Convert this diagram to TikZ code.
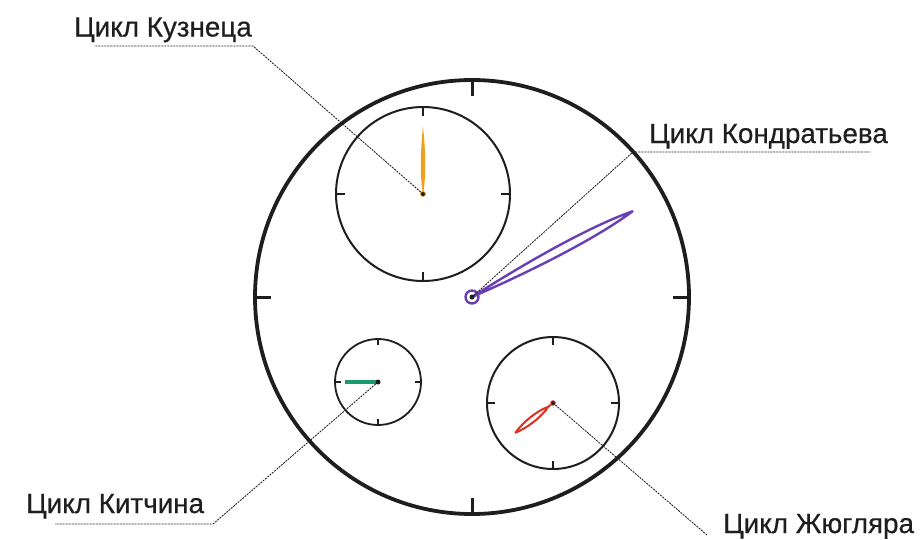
\documentclass[tikz,border=0pt]{standalone}
\usepackage{fontspec}
\setmainfont{Liberation Sans}[FakeBold=0.5]
\definecolor{ink}{HTML}{1E1E1E}
\definecolor{handorange}{HTML}{F0A020}
\definecolor{handpurple}{HTML}{6A3FB5}
\definecolor{handred}{HTML}{E03020}
\definecolor{handgreen}{HTML}{1A9A70}
\begin{document}
\begin{tikzpicture}[x=1pt,y=-1pt,
  dial/.style={circle,draw=ink,inner sep=0pt,fill=none},
  tick/.style={draw=ink,line width=#1},
  tick/.default=1.8pt,
  leader/.style={draw=ink,line width=0.85pt,dash pattern=on 2pt off 1pt},
  lbl/.style={anchor=base west,inner sep=0pt,text=ink,font=\fontsize{27.8}{32}\selectfont},
  hub/.style={circle,fill=ink,inner sep=0pt,minimum size=5pt}]
\useasboundingbox (0,0) rectangle (920,539);
\fill[white] (0,0) rectangle (920,539);

% main dial
\node[dial,line width=3.8pt,minimum size=434pt] (main) at (472,297) {};
\foreach \a in {0,90,180,270}
  \draw[tick=3pt] (main.center) ++(\a:201) -- ++(\a:16);

% sub dials
\node[dial,line width=2pt,minimum size=174pt] (kuz) at (423,194) {};
\foreach \a in {0,90,180,270}
  \draw[tick] (kuz.center) ++(\a:78) -- ++(\a:9);
\node[dial,line width=1.8pt,minimum size=86pt] (kit) at (378,382) {};
\foreach \a in {0,90,180,270}
  \draw[tick=1.5pt] (kit.center) ++(\a:37) -- ++(\a:6);
\node[dial,line width=2pt,minimum size=132pt] (jug) at (553,403) {};
\foreach \a in {0,90,180,270}
  \draw[tick] (jug.center) ++(\a:58) -- ++(\a:8);

% hands
\begin{scope}[shift={(kuz.center)},rotate=90]
  \fill[handorange] (0,0) .. controls (20,3.8) and (50,2) .. (67,0) .. controls (50,-2) and (20,-3.8) .. (0,0);
\end{scope}
\begin{scope}[shift={(main.center)},rotate=28.1]
  \draw[handpurple,line width=2.4pt,line join=round] (0,0) .. controls (70,5.5) and (140,6.5) .. (182,0) .. controls (140,-6.5) and (70,-5.5) .. (0,0);
\end{scope}
\draw[handgreen,line width=3.6pt] (kit.center) -- ++(-33,0);
\begin{scope}[shift={(jug.center)},rotate=-141.7]
  \draw[handred,line width=2pt,line join=round] (0,0) -- (6,0) .. controls (18,4) and (36,3.5) .. (48,0) .. controls (36,-3.5) and (18,-4) .. (6,0);
\end{scope}

% hubs
\node[circle,draw=handpurple,line width=2.4pt,inner sep=0pt,minimum size=13pt] (mainring) at (main.center) {};
\node[hub,minimum size=5pt] (mainhub) at (main.center) {};
\node[hub,draw=handorange,line width=0.8pt,minimum size=5pt] (kuzhub) at (kuz.center) {};
\node[hub,minimum size=5pt] (kithub) at (kit.center) {};
\node[hub,draw=handred!70,line width=0.8pt,minimum size=5pt] (jughub) at (jug.center) {};

% labels
\node[lbl] (tkuz) at (74,36.5) {Цикл Кузнеца};
\node[lbl] (tkon) at (649,143) {Цикл Кондратьева};
\node[lbl] (tkit) at (26,513) {Цикл Китчина};
\node[lbl] (tjug) at (723,533) {Цикл Жюгляра};

% leader elbows
\coordinate (ekuz) at (253,46);
\coordinate (skuz) at (95,46);
\coordinate (ekon) at (633,152);
\coordinate (skon) at (870,152);
\coordinate (ekit) at (213,524);
\coordinate (skit) at (55,524);
\coordinate (ejug) at (707,535);

\draw[leader] (kuzhub.center) -- (ekuz) -- (skuz);
\draw[leader] (mainhub.center) -- (ekon) -- (skon);
\draw[leader] (kithub.center) -- (ekit) -- (skit);
\draw[leader] (jughub.center) -- (ejug);
\end{tikzpicture}
\end{document}
